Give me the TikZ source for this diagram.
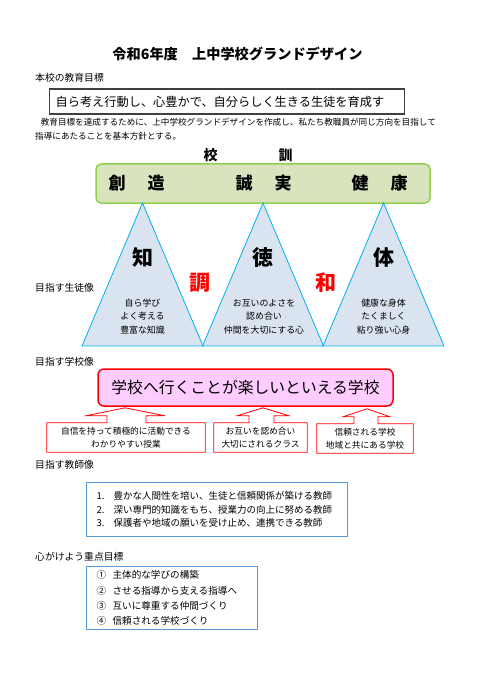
\documentclass[tikz,border=0pt]{standalone}
\usepackage{fontspec}
\setmainfont{Noto Sans CJK JP}
\usepackage{tikz}
\usetikzlibrary{positioning,calc}

\definecolor{kungreen}{HTML}{92D050}
\definecolor{kunfill}{HTML}{D7E4BD}
\definecolor{tricyan}{HTML}{00B0F0}
\definecolor{trifill}{HTML}{DAE3F0}
\definecolor{pinkfill}{HTML}{FFCCFF}
\definecolor{boxblue}{HTML}{5B9BD5}
\definecolor{goalgray}{HTML}{404040}

\newcommand{\gdnum}[2]{\makebox[#1][l]{#2}}

\begin{document}
\begin{tikzpicture}[
    x=1pt, y=-1pt,
    heading/.style={anchor=west, inner sep=0pt, font=\fontsize{9.8}{12}\selectfont},
    bodytext/.style={anchor=west, inner sep=0pt, font=\fontsize{8.6}{11}\selectfont},
    kunbox/.style={draw=kungreen, fill=kunfill, rounded corners=5pt, line width=1.5pt, minimum width=334pt, minimum height=39pt},
    kunword/.style={font=\fontsize{17}{17}\bfseries\selectfont, inner sep=0pt},
    tri/.style={draw=tricyan, fill=trifill, line width=0.8pt},
    bigchar/.style={font=\fontsize{21}{21}\bfseries\selectfont, inner sep=0pt},
    tritext/.style={align=center, inner sep=0pt, font=\fontsize{8.9}{13.5}\selectfont},
    schoolbox/.style={draw=red, fill=pinkfill, rounded corners=6pt, line width=1.5pt, minimum width=295pt, minimum height=37pt, font=\fontsize{15.8}{16}\selectfont},
    calltext/.style={align=center, inner sep=0pt, minimum height=29pt, font=\fontsize{8.7}{12.5}\selectfont},
    callout/.style={draw=red, line width=0.8pt},
    listbox/.style={draw=boxblue, line width=1.2pt, anchor=north west, align=left, inner xsep=10pt}
]

\fill[white] (0,0) rectangle (481,687);
\useasboundingbox (0,0) rectangle (481,687);

% title and school aim
\node[font=\fontsize{14.2}{15}\bfseries\selectfont, inner sep=0pt] (title) at (237.5,54) {令和6年度　上中学校グランドデザイン};
\node[heading] (aimhead) at (35,78) {本校の教育目標};
\node[draw=goalgray, line width=1.2pt, anchor=west, text width=343pt, inner xsep=6pt, minimum height=25pt, align=left,
      font=\fontsize{12.2}{13}\selectfont] (aim) at (49,101.5) {自ら考え行動し、心豊かで、自分らしく生きる生徒を育成す};
\node[bodytext] (para1) at (32,122) {　教育目標を達成するために、上中学校グランドデザインを作成し、私たち教職員が同じ方向を目指して};
\node[bodytext] (para2) at (35,136) {指導にあたることを基本方針とする。};

% school motto
\node[font=\fontsize{14}{14}\bfseries\selectfont, inner sep=0pt] (kunlabel) at (248,155) {校\hspace{61pt}訓};
\node[kunbox] (kun) at (263,183.5) {};
\node[kunword] (sozo) at (136.5,183) {創\hspace{22pt}造};
\node[kunword] (seijitsu) at (263.5,183) {誠\hspace{22pt}実};
\node[kunword] (kenko) at (379.5,183) {健\hspace{22pt}康};

% student image: three triangles
\foreach \x in {142.5,263,383.5}
  \draw[tri] (\x,203) -- ++(60.5,143) -- ++(-121,0) -- cycle;

\node[heading] (studenthead) at (35,288) {目指す生徒像};
\node[bigchar] (chi) at (142.5,257.5) {知};
\node[bigchar] (toku) at (263,257.5) {徳};
\node[bigchar] (tai) at (383.5,257.5) {体};
\node[bigchar, text=red] (cho) at (200,283) {調};
\node[bigchar, text=red] (wa) at (325.5,283) {和};

\node[tritext] (chitext) at (142.5,316.5) {自ら学び\\よく考える\\豊富な知識};
\node[tritext] (tokutext) at (264,316.5) {お互いのよさを\\認め合い\\仲間を大切にする心};
\node[tritext] (taitext) at (383.5,316.5) {健康な身体\\たくましく\\粘り強い心身};

% school image
\node[heading] (schoolhead) at (35,362) {目指す学校像};
\node[schoolbox] (school) at (245.5,387.5) {学校へ行くことが楽しいといえる学校};

\node[calltext, minimum width=158pt] (c1) at (126,437.5) {自信を持って積極的に活動できる\\わかりやすい授業};
\node[calltext, minimum width=93pt] (c2) at (260.5,437.5) {お互いを認め合い\\大切にされるクラス};
\node[calltext, minimum width=96pt] (c3) at (365,438.5) {信頼される学校\\地域と共にある学校};

\draw[callout] (c1.south west) -- (c1.north west) -- ($(c1.north)+(-19,0)$) -- ++(0,-7) -- ++(-21,0) -- ++(39,-8)
  -- ++(40,8) -- ++(-19,0) -- ++(0,7) -- (c1.north east) -- (c1.south east) -- cycle;
\draw[callout] (c2.south west) -- (c2.north west) -- ($(c2.north)+(-11.5,0)$) -- ++(0,-7) -- ++(-12,0) -- ++(26,-8)
  -- ++(26,8) -- ++(-15,0) -- ++(0,7) -- (c2.north east) -- (c2.south east) -- cycle;
\draw[callout] (c3.south west) -- (c3.north west) -- ($(c3.north)+(-11,0)$) -- ++(0,-7) -- ++(-11,0) -- ++(24,-8)
  -- ++(23,8) -- ++(-12,0) -- ++(0,7) -- (c3.north east) -- (c3.south east) -- cycle;

% teacher image
\node[heading] (teacherhead) at (35,465) {目指す教師像};
\node[listbox, text width=241pt, minimum height=54pt, font=\fontsize{9.5}{13.5}\selectfont] (teacher) at (86,482) {%
  \gdnum{17pt}{1.}豊かな人間性を培い、生徒と信頼関係が築ける教師\\
  \gdnum{17pt}{2.}深い専門的知識をもち、授業力の向上に努める教師\\
  \gdnum{17pt}{3.}保護者や地域の願いを受け止め、連携できる教師};

% focus goals
\node[heading] (focushead) at (35,557) {心がけよう重点目標};
\node[listbox, text width=151pt, minimum height=63pt, font=\fontsize{9.6}{15.3}\selectfont] (focus) at (86,566) {%
  \gdnum{16pt}{①}主体的な学びの構築\\
  \gdnum{16pt}{②}させる指導から支える指導へ\\
  \gdnum{16pt}{③}互いに尊重する仲間づくり\\
  \gdnum{16pt}{④}信頼される学校づくり};

\end{tikzpicture}
\end{document}
